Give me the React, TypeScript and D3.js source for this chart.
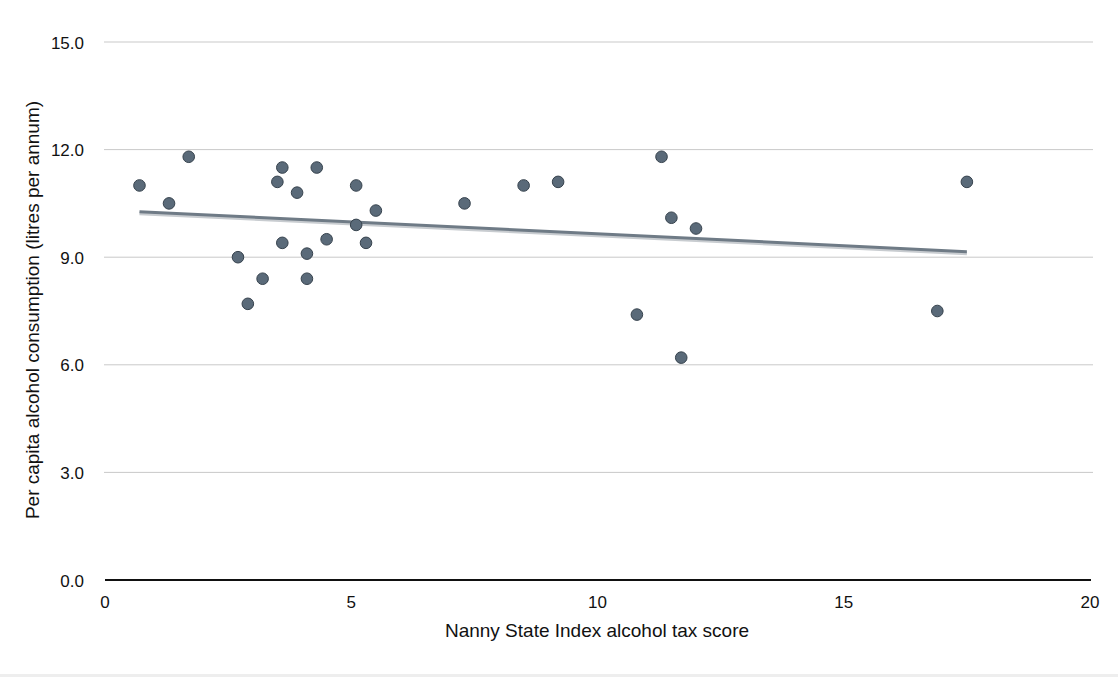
import * as d3 from "d3"

const taxScore = [
  0.7, 1.3, 1.7, 2.7, 2.9, 3.2, 3.5, 3.6, 3.6, 3.9, 4.1, 4.1, 4.3, 4.5, 5.1, 5.1,
  5.3, 5.5, 7.3, 8.5, 9.2, 10.8, 11.3, 11.5, 11.7, 12.0, 16.9, 17.5,
]
const consumption = [
  11.0, 10.5, 11.8, 9.0, 7.7, 8.4, 11.1, 11.5, 9.4, 10.8, 9.1, 8.4, 11.5, 9.5,
  11.0, 9.9, 9.4, 10.3, 10.5, 11.0, 11.1, 7.4, 11.8, 10.1, 6.2, 9.8, 7.5, 11.1,
]
const xTicks = [0, 5, 10, 15, 20]
const yTicks = [0, 3, 6, 9, 12, 15]

const W = 1118
const H = 677
const font = "'Liberation Sans', Arial, sans-serif"

function fitLine(xs: number[], ys: number[]) {
  const mx = d3.mean(xs)!
  const my = d3.mean(ys)!
  let sxy = 0
  let sxx = 0
  xs.forEach((x, i) => {
    sxy += (x - mx) * (ys[i] - my)
    sxx += (x - mx) * (x - mx)
  })
  const slope = sxy / sxx
  return { slope, intercept: my - slope * mx }
}

export default function App() {
  const x = d3.scaleLinear().domain([0, 20]).range([105, 1090])
  const y = d3.scaleLinear().domain([0, 15]).range([580, 42])

  const points = taxScore.map((t, i) => ({ id: i, x: t, y: consumption[i] }))
  const { slope, intercept } = fitLine(taxScore, consumption)
  const [x0, x1] = d3.extent(taxScore) as [number, number]
  const trend = [x0, x1].map((v) => [v, intercept + slope * v] as [number, number])
  const line = d3
    .line<[number, number]>()
    .x((d) => x(d[0]))
    .y((d) => y(d[1]))

  return (
    <div style={{ position: "absolute", left: 0, top: 0 }}>
      <svg width={W} height={H} style={{ display: "block" }} fontFamily={font}>
        <rect width={W} height={H} fill="#ffffff" />
        <rect x={0} y={674} width={W} height={3} fill="#eeeeee" />

        {yTicks.map((t) => (
          <g key={t}>
            {t > 0 && (
              <line x1={104} x2={1093} y1={y(t)} y2={y(t)} stroke="#c9c9c9" strokeWidth={1} />
            )}
            <text
              x={84}
              y={y(t) + 1}
              textAnchor="end"
              dominantBaseline="central"
              fontSize={17}
              fill="#111"
            >
              {t.toFixed(1)}
            </text>
          </g>
        ))}

        <line x1={105} x2={1091} y1={y(0)} y2={y(0)} stroke="#111" strokeWidth={2} />

        {xTicks.map((t) => (
          <text
            key={t}
            x={x(t)}
            y={602}
            textAnchor="middle"
            dominantBaseline="central"
            fontSize={17}
            fill="#111"
          >
            {t}
          </text>
        ))}

        {/* trend line with soft shadow */}
        <path
          d={line(trend)!}
          transform="translate(0,2)"
          stroke="#c8ccd0"
          strokeWidth={3}
          fill="none"
        />
        <path d={line(trend)!} stroke="#6f7b86" strokeWidth={3} fill="none" />

        {points.map((p) => (
          <circle
            key={p.id}
            cx={x(p.x)}
            cy={y(p.y)}
            r={5.8}
            fill="#5a6a79"
            stroke="#36424d"
            strokeWidth={1}
          />
        ))}

        <text
          x={597}
          y={630}
          textAnchor="middle"
          dominantBaseline="central"
          fontSize={19}
          fill="#111"
        >
          Nanny State Index alcohol tax score
        </text>
        <text
          transform={`translate(32,310) rotate(-90)`}
          textAnchor="middle"
          dominantBaseline="central"
          fontSize={19}
          fill="#111"
        >
          Per capita alcohol consumption (litres per annum)
        </text>
      </svg>
    </div>
  )
}
